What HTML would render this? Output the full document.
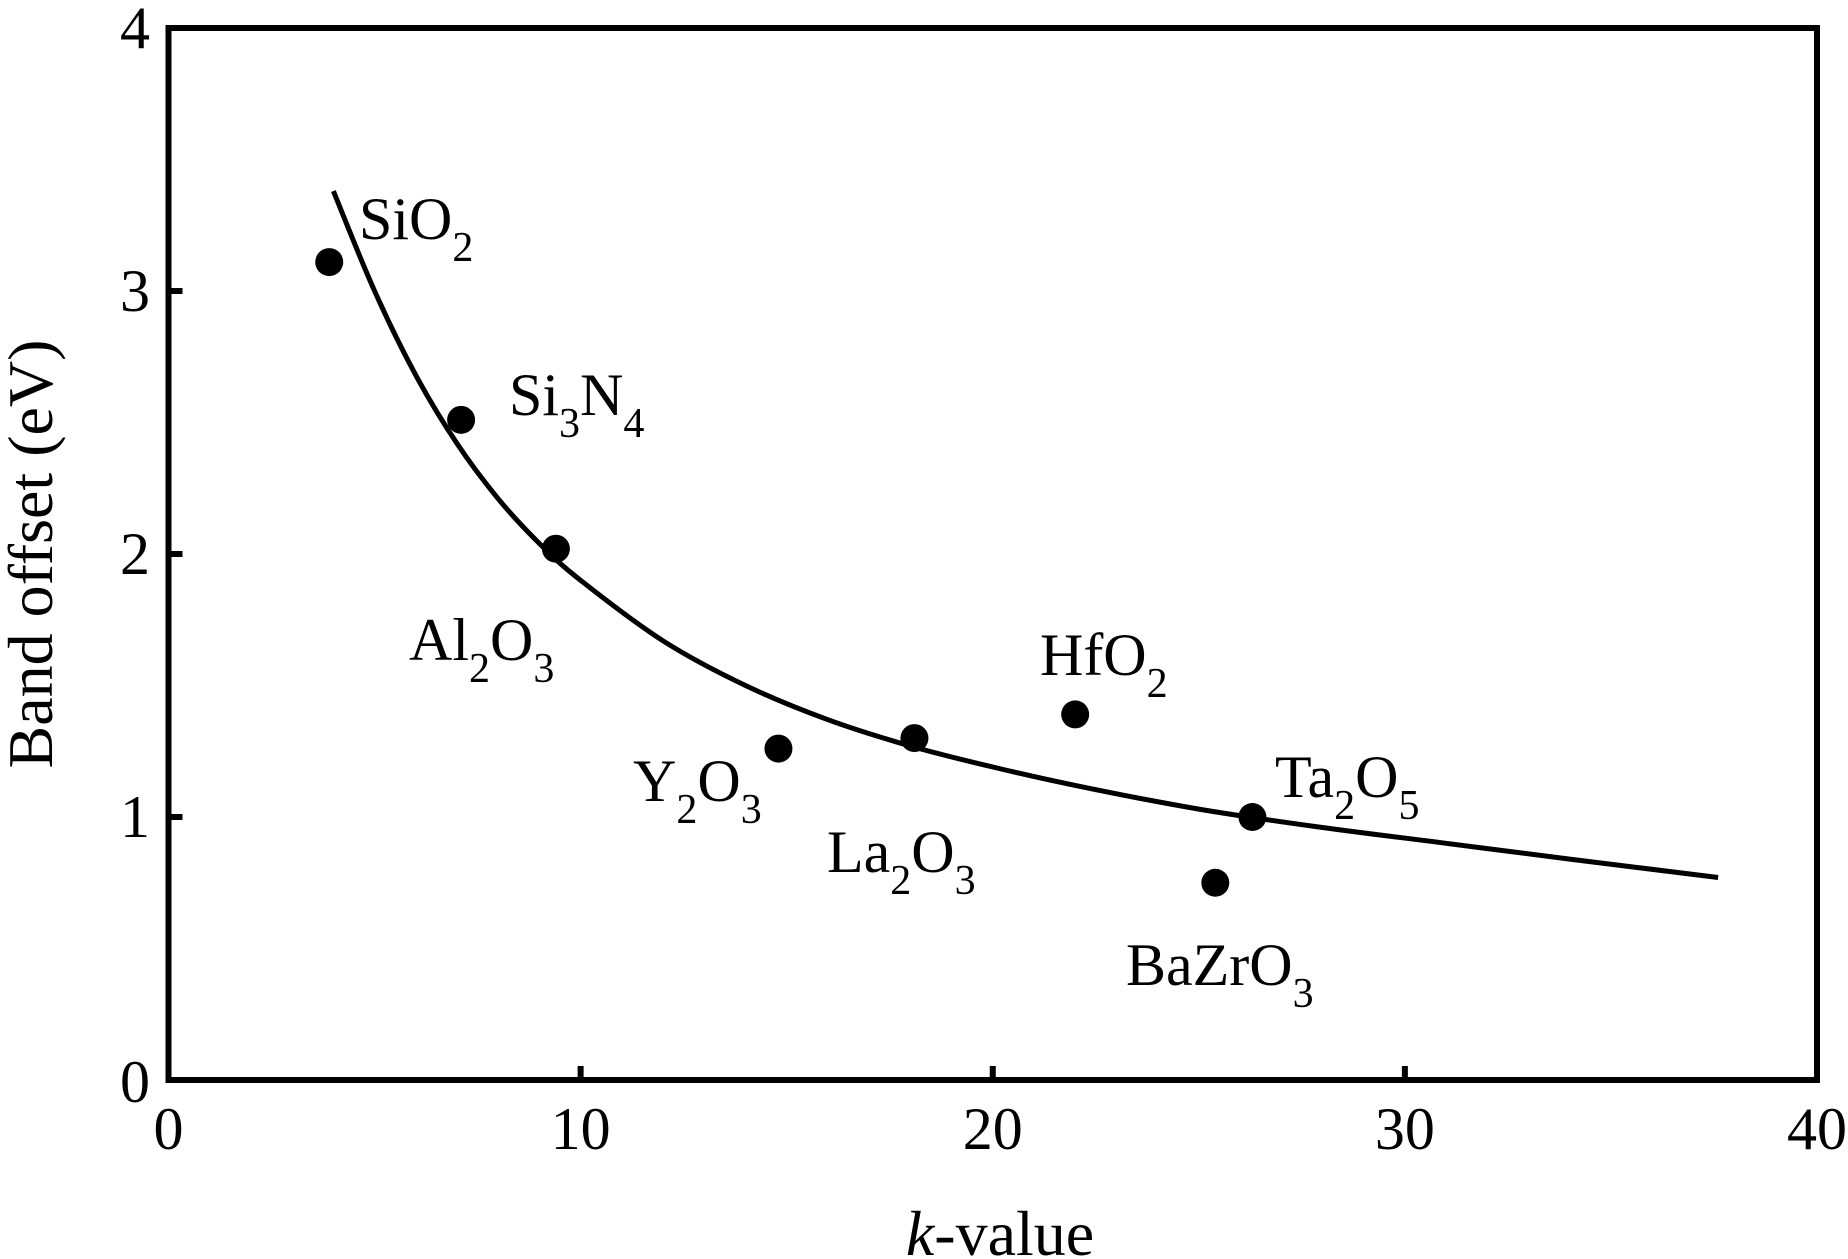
<!DOCTYPE html>
<html><head><meta charset="utf-8"><style>
html,body{margin:0;padding:0;background:#fff;}
svg{display:block;font-family:"Liberation Serif",serif;}
</style></head><body>
<svg id="chart" width="1848" height="1259" viewBox="0 0 1848 1259">
<rect width="1848" height="1259" fill="#fff"/>
<g id="marks"></g>
</svg>
<script>
const xTicks=[0,10,20,30,40];
const yTicks=[0,1,2,3,4];
const materialNames=["SiO","Si","Al","Y","La","Hf","BaZr","Ta"];
const kValues=[3.9,7.1,9.4,14.8,18.1,22.0,25.4,26.3];
const bandOffsets=[3.11,2.51,2.02,1.26,1.30,1.39,0.75,1.0];
const curveK=[4,5,6,7,8,9,10,12,14,16,18,20,22,25,28,31,34,37.6];
const curveB=[3.38,3.0,2.68,2.42,2.21,2.04,1.9,1.67,1.5,1.37,1.27,1.19,1.12,1.03,0.96,0.9,0.84,0.77];

const X0=168.5,X1=1817,Y0=1080,Y1=28;
const xs=v=>X0+(v-0)/40*(X1-X0);
const ys=v=>Y0-(v-0)/4*(Y0-Y1);
const NS="http://www.w3.org/2000/svg";
const g=document.getElementById('marks');
function mk(t,a){const e=document.createElementNS(NS,t);for(const k in a)e.setAttribute(k,a[k]);g.appendChild(e);return e;}

const frame=mk('rect',{x:X0,y:Y1,width:X1-X0,height:Y0-Y1,fill:'none',stroke:'#000','stroke-width':6});



xTicks.forEach(t=>{
  const x=xs(t);
  if(t>0&&t<40){const l=mk('line',{x1:x,x2:x,y1:Y0,y2:Y0-14,stroke:'#000','stroke-width':6});
  
  }
  const tx=mk('text',{x:x,y:1149,'font-size':60,'text-anchor':'middle'});tx.textContent=t;
  
  
});
yTicks.forEach(t=>{
  const y=ys(t);
  if(t>0&&t<4){const l=mk('line',{x1:X0,x2:X0+14,y1:y,y2:y,stroke:'#000','stroke-width':6});
  
  }
  const tx=mk('text',{x:150,y:y+(t===0?22:20),'font-size':60,'text-anchor':'end'});tx.textContent=t;
  
  
});

const P=curveK.map((k,i)=>[xs(k),ys(curveB[i])]);
let d='M'+P[0][0].toFixed(1)+','+P[0][1].toFixed(1);
for(let i=0;i<P.length-1;i++){
  const p0=P[Math.max(0,i-1)],p1=P[i],p2=P[i+1],p3=P[Math.min(P.length-1,i+2)];
  const c1=[p1[0]+(p2[0]-p0[0])/6,p1[1]+(p2[1]-p0[1])/6];
  const c2=[p2[0]-(p3[0]-p1[0])/6,p2[1]-(p3[1]-p1[1])/6];
  d+='C'+c1.map(v=>v.toFixed(1)).join(',')+' '+c2.map(v=>v.toFixed(1)).join(',')+' '+p2.map(v=>v.toFixed(1)).join(',');
}
const path=mk('path',{d:d,fill:'none',stroke:'#000','stroke-width':5,'stroke-linejoin':'round'});



kValues.forEach((k,i)=>{
  const c=mk('circle',{cx:xs(k),cy:ys(bandOffsets[i]),r:14,fill:'#000'});
  
  
});

const labels=[
 [359,239,[["SiO",0],["2",1]]],
 [509,415,[["Si",0],["3",1],["N",0],["4",1]]],
 [409,660,[["Al",0],["2",1],["O",0],["3",1]]],
 [633,801,[["Y",0],["2",1],["O",0],["3",1]]],
 [827,872,[["La",0],["2",1],["O",0],["3",1]]],
 [1040,675,[["HfO",0],["2",1]]],
 [1126,985,[["BaZrO",0],["3",1]]],
 [1275,797,[["Ta",0],["2",1],["O",0],["5",1]]]
];
labels.forEach(L=>{
  const t=mk('text',{x:L[0],y:L[1],'font-size':60});
  
  
  L[2].forEach(p=>{const s=document.createElementNS(NS,'tspan');s.textContent=p[0];
    if(p[1]){s.setAttribute('font-size',42);s.setAttribute('dy',22);}else if(t.childNodes.length){s.setAttribute('dy',-22);}
    t.appendChild(s);});
});

const xt=mk('text',{x:1000,y:1255,'font-size':64,'text-anchor':'middle'});
xt.innerHTML='<tspan font-style="italic">k</tspan>-value';


const yt=mk('text',{x:0,y:0,'font-size':64,'text-anchor':'middle',transform:'translate(52,554) rotate(-90)'});
yt.textContent='Band offset (eV)';


</script>
</body></html>
